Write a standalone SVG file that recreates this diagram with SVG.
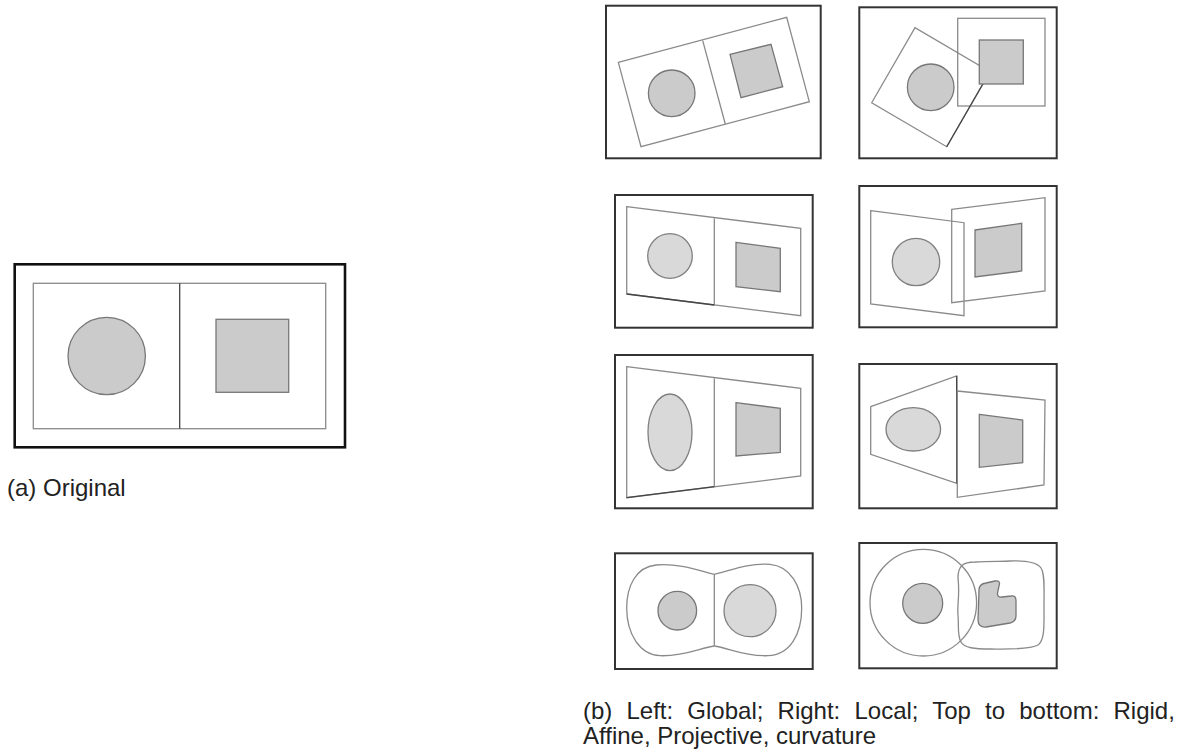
<svg xmlns="http://www.w3.org/2000/svg" width="1185" height="755" viewBox="0 0 1185 755">
  <style>
    .frame { fill: none; stroke: #333; stroke-width: 2; }
    .frame-bold { fill: none; stroke: #111; stroke-width: 2.6; }
    .outline { fill: none; stroke: #8a8a8a; stroke-width: 1.3; }
    .edge-dark { fill: none; stroke: #444; stroke-width: 1.3; }
    .shape { fill: #cbcbcb; stroke: #777; stroke-width: 1.3; }
    .shape-light { fill: #d9d9d9; stroke: #808080; stroke-width: 1.3; }
    .caption { font-family: "Liberation Sans", Arial, Helvetica, sans-serif; font-size: 24px; fill: #222; }
  </style>
  <rect width="1185" height="755" fill="#fff"/>

  <!-- (a) original image -->
  <g id="original">
    <rect class="frame-bold" x="14.7" y="264.3" width="330.3" height="183"/>
    <rect class="outline" x="33.3" y="283.3" width="292.4" height="145.4"/>
    <line class="edge-dark" x1="179.7" y1="283.3" x2="179.7" y2="428.7"/>
    <circle class="shape" cx="106.7" cy="356" r="38.7"/>
    <rect class="shape" x="216" y="319.3" width="72.7" height="73"/>
  </g>
  <text id="label-a" class="caption" x="7" y="496">(a) Original</text>

  <!-- global rigid -->
  <g id="global-rigid">
    <rect class="frame" x="606" y="5.7" width="214.7" height="152.6"/>
    <polygon class="outline" points="618.3,62.3 786.7,17.3 809.3,101.7 641,146.7"/>
    <line class="outline" x1="702.7" y1="40.7" x2="725.3" y2="124"/>
    <circle class="shape" cx="671.7" cy="93.3" r="23.3"/>
    <polygon class="shape" points="730,54.3 771,44.3 782.7,86.7 741,97.7"/>
  </g>

  <!-- local rigid -->
  <g id="local-rigid">
    <rect class="frame" x="859.3" y="7.3" width="197.4" height="151"/>
    <rect class="outline" x="957.7" y="18.3" width="87.3" height="87.7"/>
    <polygon class="outline" points="871.7,102.7 915,27.7 990,71.7 946.7,146.7"/>
    <line class="edge-dark" x1="984" y1="82" x2="946.7" y2="146.7"/>
    <circle class="shape" cx="930.7" cy="87.3" r="23.3"/>
    <rect class="shape" x="979.3" y="40" width="44" height="44"/>
  </g>

  <!-- global affine -->
  <g id="global-affine">
    <rect class="frame" x="615" y="195" width="197.7" height="132.7"/>
    <polygon class="outline" points="626.7,206.7 800.7,228.3 800.7,315.7 626.7,294"/>
    <line class="outline" x1="714.3" y1="218.3" x2="714.3" y2="305"/>
    <line class="edge-dark" x1="626.7" y1="294" x2="714.3" y2="305"/>
    <circle class="shape-light" cx="670" cy="256" r="22.3"/>
    <polygon class="shape" points="736,242.3 780.3,248.3 780.3,291.7 736,286.7"/>
  </g>

  <!-- local affine -->
  <g id="local-affine">
    <rect class="frame" x="859.3" y="186" width="197.4" height="141.3"/>
    <polygon class="outline" points="870.7,210.7 964,222.7 964,315.7 870.7,304"/>
    <polygon class="outline" points="951.7,209.3 1045,197.7 1045,291 951.7,302.7"/>
    <circle class="shape-light" cx="916" cy="262" r="23.7"/>
    <polygon class="shape" points="975,230 1021.7,223.3 1021.7,271 975,277"/>
  </g>

  <!-- global projective -->
  <g id="global-projective">
    <rect class="frame" x="615" y="355" width="197.7" height="153.3"/>
    <polygon class="outline" points="626.7,366.7 800.7,388.3 800.7,476 626.7,497.7"/>
    <line class="outline" x1="714.3" y1="378.3" x2="714.3" y2="486.7"/>
    <line class="edge-dark" x1="626.7" y1="497.7" x2="714.3" y2="486.7"/>
    <ellipse class="shape-light" cx="670" cy="432.3" rx="22" ry="38.3"/>
    <polygon class="shape" points="736,402.7 780.3,408.3 780.3,452.3 736,456"/>
  </g>

  <!-- local projective -->
  <g id="local-projective">
    <rect class="frame" x="859.3" y="364" width="197.4" height="144.3"/>
    <polygon class="outline" points="870.7,406.7 956.7,376 956.7,483.3 870.7,454.3"/>
    <line class="edge-dark" x1="956.7" y1="376" x2="956.7" y2="483.3"/>
    <polygon class="outline" points="957.3,391 1045,400 1044,485 957.3,497.3"/>
    <ellipse class="shape-light" cx="913.3" cy="429.3" rx="27.3" ry="21.7"/>
    <polygon class="shape" points="979.3,414.3 1022.7,420 1022.7,462.7 979.3,467.3"/>
  </g>

  <!-- global curvature -->
  <g id="global-curvature">
    <rect class="frame" x="615" y="553.3" width="197.7" height="115.7"/>
    <path class="outline" d="M714.3 574.3 C700 571 680 563 656 565 C636 567 626.7 586 626.7 608 C626.7 634 640 655 660 655.7 C685 656.5 700 648 714.3 646"/>
    <path class="outline" d="M714.3 574.3 C730 571 746 563 770 564.3 C790 566 801.7 586 801.7 608 C801.7 634 790 655 768 655.7 C744 656.5 729 648 714.3 646"/>
    <line class="outline" x1="714.3" y1="574.3" x2="714.3" y2="646"/>
    <circle class="shape" cx="677.3" cy="610.7" r="19.3"/>
    <circle class="shape-light" cx="750" cy="610.7" r="26"/>
  </g>

  <!-- local curvature -->
  <g id="local-curvature">
    <rect class="frame" x="859.3" y="543" width="197.4" height="125.3"/>
    <circle class="outline" cx="923.3" cy="602.7" r="53.3"/>
    <path class="outline" d="M958 578 C958 566 963 562 975 562 C990 561 1000 561.5 1010 561 C1025 560.5 1037 562 1041 568 C1045 574 1044 590 1044 605 C1044 625 1045 640 1038 645 C1030 650 1005 649 990 649 C975 649 964 648 961 642 C957 635 959 625 958 615 C957 605 960 595 958 578 Z"/>
    <circle class="shape" cx="922.7" cy="603.3" r="20"/>
    <path class="shape" d="M979 590 C979 585 982 583.5 986 583 L995 581 C999 580.5 1000.5 582 999 586 L997.5 593 C997 596 999 597.5 1002 597 L1011 596 C1014.5 595.5 1016 597 1016 601 L1016 616 C1016 620 1014 622 1010 623 L986 627 C981 627.5 978 625 978 620 Z"/>
  </g>

  <text id="label-b" class="caption" word-spacing="7.5">
    <tspan x="583" y="719">(b) Left: Global; Right: Local; Top to bottom: Rigid,</tspan>
    <tspan x="583" y="744" word-spacing="0">Affine, Projective, curvature</tspan>
  </text>
</svg>
